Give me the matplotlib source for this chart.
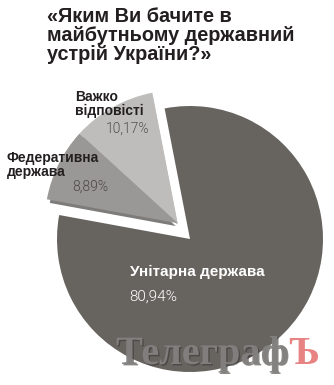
import numpy as np
import matplotlib
matplotlib.use("Agg")
import matplotlib.pyplot as plt
import matplotlib.patheffects as pe

# ---- data ----
title = "«Яким Ви бачите в\nмайбутньому державний\nустрій України?»"
categories = ["Важко\nвідповісті", "Федеративна\nдержава", "Унітарна держава"]
values = [10.17, 8.89, 80.94]
pct_labels = ["10,17%", "8,89%", "80,94%"]

colors = ["#bebdbb", "#9a9896", "#67635f"]
shadow_colors = ["#9e9d9b", "#7e7c7a", "#67635f"]

W, H = 334, 385
fig = plt.figure(figsize=(W / 100, H / 100), dpi=100)
ax = fig.add_axes([0, 0, 1, 1])

# pixel geometry of the pie
cx, cy, R = 190, 239, 133

start = 101
# group offset for the two small slices (exploded together)
off_dir = np.deg2rad(128)
dist = 0.15
off = (dist * np.cos(off_dir), dist * np.sin(off_dir))
sh = (0.012, -0.034)  # extrusion shadow offset

# big slice
w_big, _ = ax.pie(values, startangle=start, counterclock=True,
                  colors=["none", "none", colors[2]],
                  wedgeprops=dict(edgecolor="none", linewidth=0))
for i, w in enumerate(w_big):
    if i < 2:
        w.set_visible(False)

# shadows of small slices
w_sh, _ = ax.pie(values, startangle=start, counterclock=True,
                 colors=shadow_colors,
                 center=(off[0] + sh[0], off[1] + sh[1]),
                 wedgeprops=dict(edgecolor="white", linewidth=1.6))
w_sh[2].set_visible(False)

# small slices
w_sm, _ = ax.pie(values, startangle=start, counterclock=True,
                 colors=colors, center=off,
                 wedgeprops=dict(edgecolor="none", linewidth=0))
w_sm[2].set_visible(False)

ax.set_axis_off()
ax.set_aspect("equal", adjustable="datalim")
ax.set_xlim(-cx / R, (W - cx) / R)
ax.set_ylim(-(H - cy) / R, cy / R)

def px(x, y):
    return (x - cx) / R, (cy - y) / R

dark = "#231f20"
fig.text(47 / W, 1 - 7 / H, title, ha="left", va="top", fontsize=14.3,
         fontweight="bold", color=dark, family="Liberation Sans",
         linespacing=1.0)

# labels
lab_font = dict(fontsize=10, fontweight="bold", family="Liberation Sans",
                linespacing=1.0)
pct_font = dict(fontsize=10, fontweight=300, family="Roboto")

ax.text(*px(75, 90), categories[0], ha="left", va="top", color=dark, **lab_font)
ax.text(*px(106, 122), pct_labels[0], ha="left", va="top", color="#55524f", **pct_font)
ax.text(*px(7, 151), categories[1], ha="left", va="top", color=dark, **lab_font)
ax.text(*px(72, 180), pct_labels[1], ha="left", va="top", color="#4a4745", **pct_font)
ax.text(*px(130, 265), categories[2], ha="left", va="top", color="white",
        fontsize=11, fontweight="bold", family="Liberation Sans")
ax.text(*px(129, 290), pct_labels[2], ha="left", va="top", color="white",
        fontsize=11, fontweight=300, family="Roboto")

# watermark
wm_fx = [pe.withSimplePatchShadow(offset=(1, -1), shadow_rgbFace="#3a3836", alpha=0.6)]
t1 = fig.text(116 / W, 1 - 364 / H, "Телеграф", ha="left", va="baseline",
              fontsize=29, fontweight="bold", family="Liberation Serif",
              color="#838180", alpha=0.95, path_effects=wm_fx)
fig.canvas.draw()
bb = t1.get_window_extent()
fig.text(bb.x1 / W, 1 - 364 / H, "Ъ", ha="left", va="baseline",
         fontsize=29, fontweight="bold", family="Liberation Serif",
         color="#e67c7c", alpha=0.95)

fig.savefig("out.png", dpi=100)
